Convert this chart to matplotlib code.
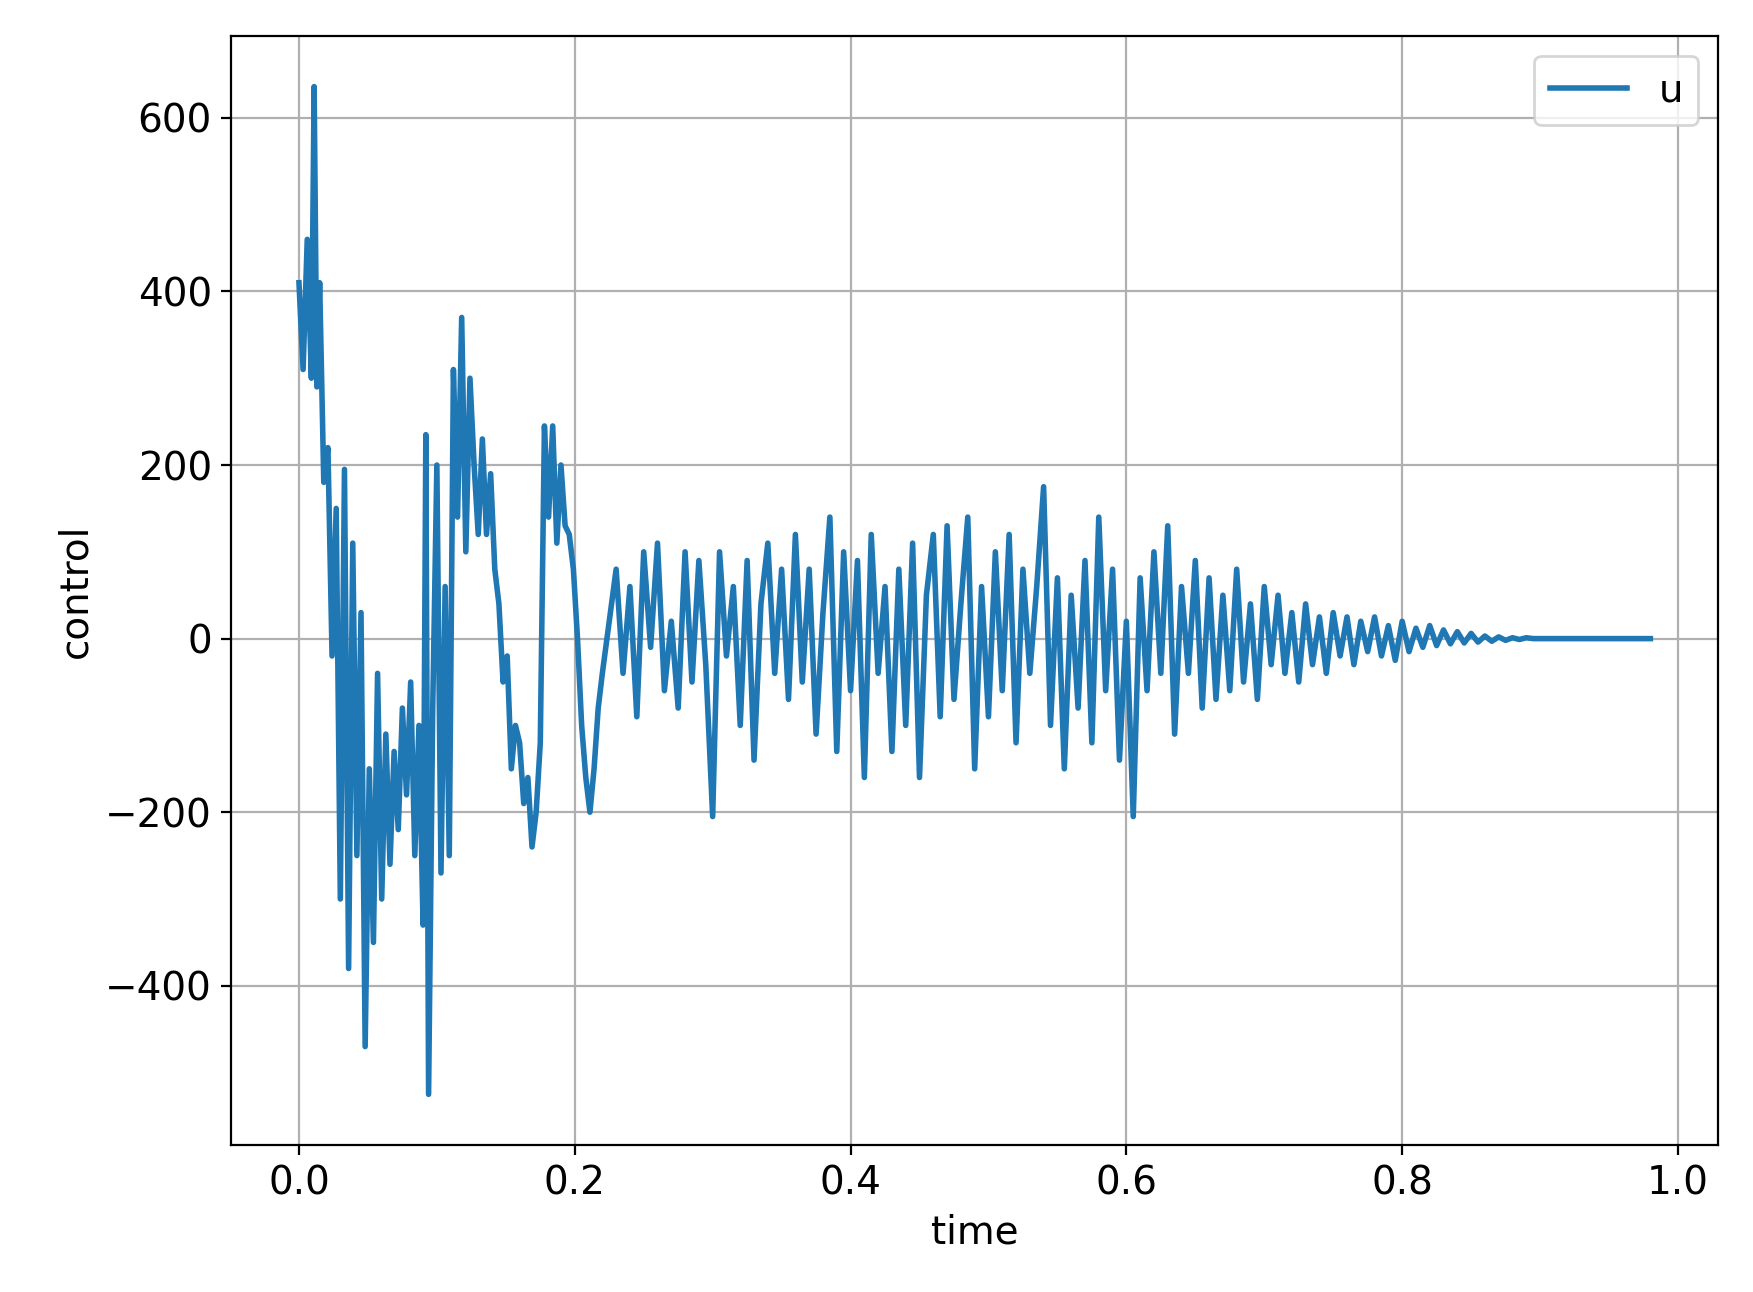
import numpy as np
import matplotlib.pyplot as plt

# early part: irregular samples
t_early = [0.000, 0.003, 0.006, 0.009, 0.011, 0.013, 0.015, 0.018, 0.021, 0.024,
           0.027, 0.030, 0.033, 0.036, 0.039, 0.042, 0.045, 0.048, 0.051, 0.054,
           0.057, 0.060, 0.063, 0.066, 0.069, 0.072, 0.075, 0.078, 0.081, 0.084,
           0.087, 0.090, 0.092, 0.094, 0.097, 0.100, 0.103, 0.106, 0.109, 0.112,
           0.115, 0.118, 0.121, 0.124, 0.127, 0.130, 0.133, 0.136, 0.139, 0.142,
           0.145, 0.148, 0.151, 0.154, 0.157, 0.160, 0.163, 0.166, 0.169, 0.172,
           0.175, 0.178, 0.181, 0.184, 0.187, 0.190, 0.193, 0.196, 0.199, 0.202,
           0.205, 0.208, 0.211, 0.214, 0.217, 0.220]
u_early = [410, 310, 460, 300, 636, 290, 410, 180, 220, -20,
           150, -300, 195, -380, 110, -250, 30, -470, -150, -350,
           -40, -300, -110, -260, -130, -220, -80, -180, -50, -250,
           -100, -330, 235, -525, -80, 200, -270, 60, -250, 310,
           140, 370, 100, 300, 200, 120, 230, 120, 190, 80,
           40, -50, -20, -150, -100, -120, -190, -160, -240, -200,
           -120, 245, 140, 245, 110, 200, 130, 120, 80, 0,
           -100, -160, -200, -150, -80, -40]

# later part: samples every 0.005 from 0.225
u_late = [20, 80, -40, 60, -90, 100, -10, 110, -60, 20, -80, 100, -50, 90, -30, -205,
          100, -20, 60, -100, 90, -140, 40, 110, -40, 80, -70, 120, -50, 80, -110, 30, 140, -130, 100, -60,
          90, -160, 120, -40, 60, -130, 80, -100, 110, -160, 50, 120, -90, 130, -70, 40, 140, -150, 60, -90,
          100, -60, 120, -120, 80, -40, 60, 175, -100, 70, -150, 50, -80, 90, -120, 140, -60, 80, -140, 20,
          -205, 70, -60, 100, -40, 130, -110, 60, -40, 90, -80, 70, -70, 50, -60, 80, -50, 40, -70, 60,
          -30, 50, -40, 30, -50, 40, -30, 25, -40, 30, -20, 25, -30, 20, -15, 25, -20, 15, -25, 20,
          -15, 12, -10, 15, -8, 10, -6, 8, -5, 6, -4, 3, -3, 2, -2, 1, -1, 1, 0, 0,
          0, 0, 0, 0, 0, 0, 0, 0, 0, 0, 0, 0, 0, 0, 0, 0]
t_late = 0.225 + 0.005 * np.arange(len(u_late))

t = np.concatenate([t_early, t_late])
u = np.concatenate([u_early, u_late])

fig = plt.figure(figsize=(8.765, 6.46), dpi=200)
ax = fig.add_axes([0.132, 0.114, 0.848, 0.858])
ax.plot(t, u, color='#1f77b4', linewidth=2, label='u')
ax.set_xlabel('time', fontsize=14)
ax.set_ylabel('control', fontsize=14)
ax.tick_params(labelsize=14)
ax.set_yticks([-400, -200, 0, 200, 400, 600])
ax.grid(True)
ax.legend(fontsize=14, loc='upper right')

plt.savefig('out.png', dpi=200)
